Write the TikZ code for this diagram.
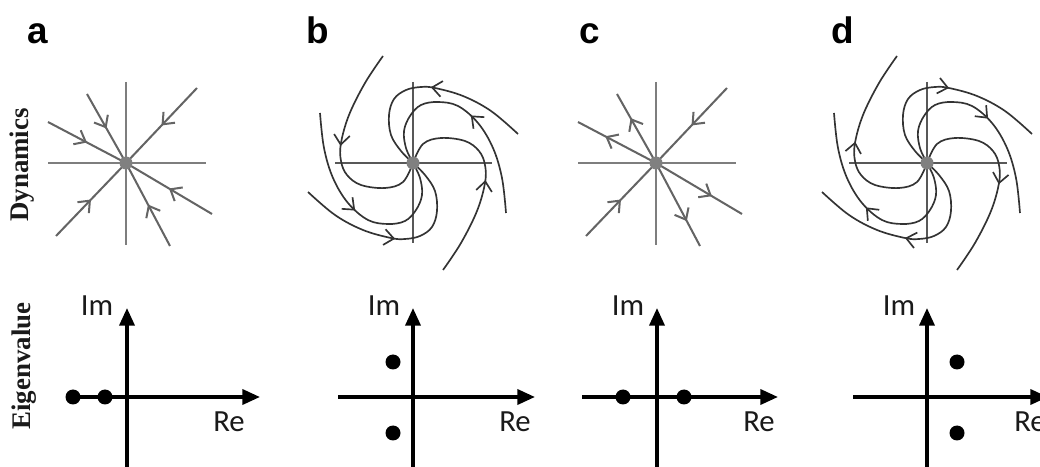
\documentclass[tikz,border=0pt]{standalone}
\usepackage{fontspec}
\setmainfont{Liberation Serif}
\newfontfamily\lblfont{Liberation Sans}
\newfontfamily\axfont{Carlito}
\usetikzlibrary{arrows.meta,decorations.markings}
\definecolor{raygray}{HTML}{646464}
\definecolor{crossgray}{HTML}{7E7E7E}
\definecolor{dotgray}{HTML}{808080}
\definecolor{spiralgray}{HTML}{333333}
\definecolor{spaxgray}{HTML}{585858}
\definecolor{txtdark}{HTML}{1A1A1A}

\newcommand{\spiralhalf}[1]{%
  \draw[spiral,#1] plot[smooth,tension=0.6] coordinates {(105,-29) (78,-52) (50,-67) (22,-75) (8,-76) (-7,-73) (-19,-64) (-24,-48) (-22,-28) (-12,-12) (0,0)};
  \draw[spiral,#1] plot[smooth,tension=0.6] coordinates {(93,50) (89,15) (80,-15) (65,-40) (45,-57) (25,-61) (8,-58) (-3,-47) (-9,-32) (-7,-15) (0,0)};
  \draw[spiral,#1] plot[smooth,tension=0.6] coordinates {(30,107) (48,80) (64,48) (72,20) (72,2) (66,-12) (52,-22) (28,-25) (10,-19) (0,0)};
}

\begin{document}
\begin{tikzpicture}[x=0.2mm,y=-0.2mm,
  panellabel/.style={font=\lblfont\bfseries\fontsize{21}{24}\selectfont,inner sep=0pt,text=black},
  rowlabel/.style={font=\bfseries\fontsize{15.3}{17}\selectfont,inner sep=0pt,text=txtdark},
  axlabel/.style={font=\axfont\fontsize{17.5}{20}\selectfont,inner sep=0pt,text=txtdark},
  ray/.style={draw=raygray,line width=1.15pt},
  cross/.style={draw=crossgray,line width=1.1pt},
  spiral/.style={draw=spiralgray,line width=0.95pt},
  spax/.style={draw=spaxgray,line width=0.9pt},
  inarrow/.style={postaction={decorate},decoration={markings,mark=at position #1 with {\arrow{Straight Barb[length=5.5pt,width=9pt]}}}},
  outarrow/.style={postaction={decorate},decoration={markings,mark=at position #1 with {\arrowreversed{Straight Barb[length=5.5pt,width=9pt]}}}},
  eaxis/.style={draw=black,line width=2pt,-{Triangle[length=10pt,width=8.5pt]}},
  edot/.style={fill=black},
  cdot/.style={fill=dotgray}
]
\useasboundingbox (0,0) rectangle (1040,467);
\clip (0,0) rectangle (1040,467);

% panel letters
\node[panellabel,anchor=base west] (la) at (27,44) {a};
\node[panellabel,anchor=base west] (lb) at (306,44) {b};
\node[panellabel,anchor=base west] (lc) at (579,44) {c};
\node[panellabel,anchor=base west] (ld) at (831,44) {d};

% row labels
\node[rowlabel,rotate=90] (dyn) at (22,165) {Dynamics};
\node[rowlabel,rotate=90] (eig) at (24,366) {Eigenvalue};

% ---------- a : stable node ----------
\begin{scope}[shift={(126,163)}]
  \coordinate (ca) at (0,0);
  \draw[cross] (-78,0) -- (80,0);
  \draw[cross] (0,-81) -- (0,82);
  \foreach \p in {(71,-75),(-39,-69),(-78,-41),(-70,73),(44,83),(86,51)}
    \draw[ray,inarrow=0.5] \p -- (ca);
  \fill[cdot] (ca) circle[radius=6.5];
\end{scope}

% ---------- b : stable focus ----------
\begin{scope}[shift={(413,163)}]
  \coordinate (cb) at (0,0);
  \draw[spax] (-78,0) -- (79,0);
  \draw[spax] (0,-81) -- (0,80);
  \spiralhalf{inarrow=0.47}
  \begin{scope}[rotate=180]
    \spiralhalf{inarrow=0.47}
  \end{scope}
  \fill[cdot] (cb) circle[radius=6.5];
\end{scope}

% ---------- c : saddle ----------
\begin{scope}[shift={(656,163)}]
  \coordinate (cc) at (0,0);
  \draw[cross] (-78,0) -- (80,0);
  \draw[cross] (0,-81) -- (0,82);
  \draw[ray,inarrow=0.5] (71,-75) -- (cc);
  \draw[ray,outarrow=0.35] (-39,-69) -- (cc);
  \draw[ray,outarrow=0.35] (-78,-41) -- (cc);
  \draw[ray,inarrow=0.5] (-70,73) -- (cc);
  \draw[ray,outarrow=0.3] (44,83) -- (cc);
  \draw[ray,outarrow=0.35] (86,51) -- (cc);
  \fill[cdot] (cc) circle[radius=6.5];
\end{scope}

% ---------- d : unstable focus ----------
\begin{scope}[shift={(927,163)}]
  \coordinate (cd) at (0,0);
  \draw[spax] (-78,0) -- (80,0);
  \draw[spax] (0,-81) -- (0,80);
  \spiralhalf{outarrow=0.45}
  \begin{scope}[rotate=180]
    \spiralhalf{outarrow=0.45}
  \end{scope}
  \fill[cdot] (cd) circle[radius=6.5];
\end{scope}

% ---------- eigenvalue planes ----------
% a
\coordinate (av0) at (127,470); \coordinate (av1) at (127,308);
\coordinate (ah0) at (73,397);  \coordinate (ah1) at (260,397);
\draw[eaxis] (av0) -- (av1);
\draw[eaxis] (ah0) -- (ah1);
\fill[edot] (73,397) circle[radius=7.5];
\fill[edot] (105,397) circle[radius=7.5];
\node[axlabel] (ima) at (97,306) {Im};
\node[axlabel] (rea) at (229,422) {Re};

% b
\coordinate (bv0) at (413,470); \coordinate (bv1) at (413,308);
\coordinate (bh0) at (338,397); \coordinate (bh1) at (535,397);
\draw[eaxis] (bv0) -- (bv1);
\draw[eaxis] (bh0) -- (bh1);
\fill[edot] (393,362) circle[radius=7.5];
\fill[edot] (393,433) circle[radius=7.5];
\node[axlabel] (imb) at (384,306) {Im};
\node[axlabel] (reb) at (515,422) {Re};

% c
\coordinate (cv0) at (657,470); \coordinate (cv1) at (657,308);
\coordinate (ch0) at (582,397); \coordinate (ch1) at (778,397);
\draw[eaxis] (cv0) -- (cv1);
\draw[eaxis] (ch0) -- (ch1);
\fill[edot] (623,397) circle[radius=7.5];
\fill[edot] (684,397) circle[radius=7.5];
\node[axlabel] (imc) at (628,306) {Im};
\node[axlabel] (rec) at (759,422) {Re};

% d
\coordinate (dv0) at (927,470); \coordinate (dv1) at (927,308);
\coordinate (dh0) at (853,397); \coordinate (dh1) at (1048,397);
\draw[eaxis] (dv0) -- (dv1);
\draw[eaxis] (dh0) -- (dh1);
\fill[edot] (957,362) circle[radius=7.5];
\fill[edot] (957,433) circle[radius=7.5];
\node[axlabel] (imd) at (899,306) {Im};
\node[axlabel] (red) at (1030,422) {Re};
\end{tikzpicture}
\end{document}
